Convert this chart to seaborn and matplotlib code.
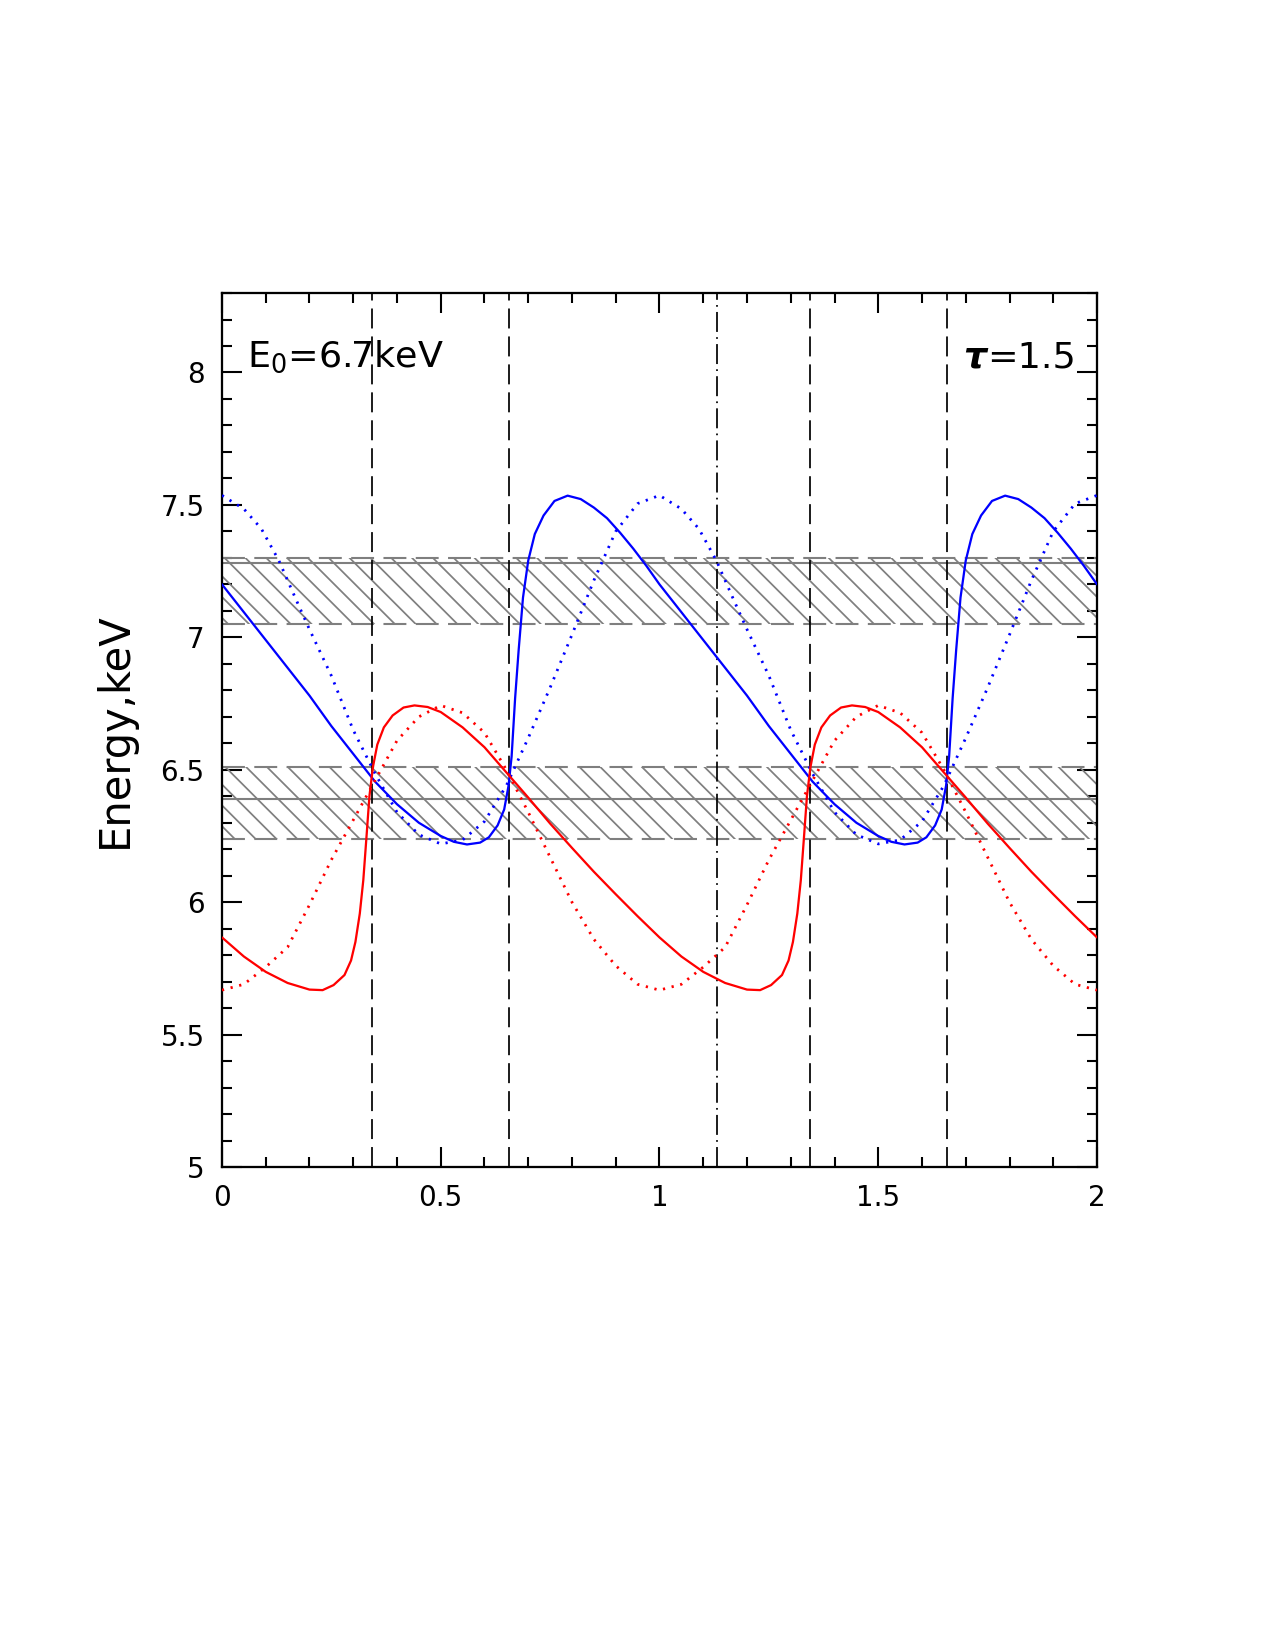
import numpy as np
import pandas as pd
import seaborn as sns
import matplotlib.pyplot as plt
from matplotlib.ticker import MultipleLocator, FuncFormatter

# one rotation period of the line energy (phase 0..1)
phase_blue = [0.00, 0.05, 0.10, 0.15, 0.20, 0.25, 0.30, 0.35, 0.40, 0.45, 0.50,
              0.53, 0.56, 0.59, 0.61, 0.63, 0.645, 0.655, 0.662, 0.670, 0.678, 0.688,
              0.700, 0.715, 0.735, 0.76, 0.79, 0.82, 0.85, 0.88, 0.91, 0.94, 0.97, 1.00]
e_blue = [7.20, 7.095, 6.99, 6.885, 6.78, 6.665, 6.56, 6.455, 6.37, 6.30, 6.25,
          6.228, 6.218, 6.225, 6.245, 6.29, 6.35, 6.44, 6.55, 6.77, 6.95, 7.15,
          7.29, 7.39, 7.46, 7.515, 7.535, 7.522, 7.49, 7.45, 7.395, 7.335, 7.27, 7.20]

phase_blue_dot = [0.00, 0.05, 0.09, 0.13, 0.17, 0.20, 0.25, 0.30, 0.35, 0.40, 0.45,
                  0.50, 0.55, 0.60, 0.65, 0.70, 0.75, 0.80, 0.85, 0.90, 0.95, 1.00]
e_blue_dot = [7.536, 7.485, 7.41, 7.29, 7.14, 7.03, 6.855, 6.65, 6.485, 6.34, 6.255,
              6.22, 6.235, 6.305, 6.44, 6.62, 6.81, 7.01, 7.215, 7.40, 7.505, 7.536]

phase_red = [0.00, 0.05, 0.10, 0.15, 0.20, 0.23, 0.255, 0.28, 0.295, 0.305, 0.315,
             0.323, 0.330, 0.337, 0.345, 0.355, 0.37, 0.39, 0.415, 0.44, 0.47, 0.50,
             0.55, 0.60, 0.65, 0.70, 0.75, 0.80, 0.85, 0.90, 0.95, 1.00]
e_red = [5.867, 5.795, 5.737, 5.695, 5.670, 5.668, 5.687, 5.725, 5.78, 5.85, 5.957,
         6.083, 6.24, 6.40, 6.51, 6.595, 6.66, 6.705, 6.735, 6.743, 6.737, 6.718,
         6.66, 6.585, 6.49, 6.395, 6.297, 6.205, 6.115, 6.03, 5.947, 5.867]

phase_red_dot = [0.00, 0.05, 0.10, 0.15, 0.20, 0.25, 0.30, 0.35, 0.40, 0.45, 0.50,
                 0.55, 0.60, 0.65, 0.70, 0.75, 0.80, 0.85, 0.90, 0.95, 1.00]
e_red_dot = [5.668, 5.69, 5.755, 5.83, 5.99, 6.16, 6.31, 6.46, 6.61, 6.70, 6.743,
             6.715, 6.64, 6.50, 6.34, 6.17, 6.00, 5.86, 5.76, 5.69, 5.668]

# observed line bands: (low, best, high)
band_low = [6.24, 7.052]
band_best = [6.391, 7.281]
band_high = [6.509, 7.301]

vlines_dashed = [0.343, 0.657, 1.343, 1.657]
vline_dashdot = 1.131

sns.set_style("ticks")
plt.rcParams['font.family'] = ['DejaVu Sans']
plt.rcParams['hatch.linewidth'] = 1.0
for k in ['text.color', 'axes.labelcolor', 'xtick.color', 'ytick.color']:
    plt.rcParams[k] = 'black'

fig = plt.figure(figsize=(10.2, 13.2), dpi=125)
ax = fig.add_axes([0.1741, 0.2927, 0.6863, 0.5297])


def two_cycles(ph, e):
    ph = np.asarray(ph)
    return pd.DataFrame({'phase': np.concatenate([ph, ph + 1]),
                         'E': np.concatenate([e, e])})


# hatched bands
for lo, best, hi in zip(band_low, band_best, band_high):
    ax.fill_between([0, 2], lo, hi, facecolor='none', edgecolor='#7f7f7f',
                    hatch='\\\\', linewidth=0, zorder=1)
    ax.axhline(lo, color='#7f7f7f', lw=1.2, dashes=(11, 4.5), zorder=2)
    ax.axhline(hi, color='#7f7f7f', lw=1.2, dashes=(11, 4.5), zorder=2)
    ax.axhline(best, color='#7f7f7f', lw=1.2, zorder=2)

for xv in vlines_dashed:
    ax.axvline(xv, color='black', lw=1.0, dashes=(11.5, 4.6), zorder=3)
ax.axvline(vline_dashdot, color='black', lw=1.0, dashes=(11.5, 3, 1, 3), zorder=3)

curves = [
    (phase_blue, e_blue, 'blue', '-'),
    (phase_blue_dot, e_blue_dot, 'blue', ':'),
    (phase_red, e_red, 'red', '-'),
    (phase_red_dot, e_red_dot, 'red', ':'),
]
for ph, e, col, ls in curves:
    df = two_cycles(ph, e)
    if ls == '-':
        sns.lineplot(data=df, x='phase', y='E', ax=ax, color=col, lw=1.3,
                     sort=False, estimator=None, zorder=4)
    else:
        sns.lineplot(data=df, x='phase', y='E', ax=ax, color=col, lw=1.6,
                     sort=False, estimator=None, dashes=False, zorder=4,
                     linestyle=(0, (0.8, 2.4)))

ax.set_xlim(0, 2)
ax.set_ylim(5, 8.3)
ax.xaxis.set_major_locator(MultipleLocator(0.5))
ax.xaxis.set_minor_locator(MultipleLocator(0.1))
ax.yaxis.set_major_locator(MultipleLocator(0.5))
ax.yaxis.set_minor_locator(MultipleLocator(0.1))
fmt = FuncFormatter(lambda v, p: f'{v:g}')
ax.xaxis.set_major_formatter(fmt)
ax.yaxis.set_major_formatter(fmt)
ax.tick_params(which='both', direction='in', top=True, right=True,
               width=1.2, color='black', labelsize=16)
ax.tick_params(which='major', length=11.5, pad=10)
ax.tick_params(which='minor', length=5.8)
for s in ax.spines.values():
    s.set_linewidth(1.3)
    s.set_color('black')

ax.set_xlabel('')
ax.set_ylabel('Energy,keV', fontsize=24, labelpad=14)

ax.text(0.057, 8.02, r'E$_0$=6.7keV', fontsize=21, ha='left', va='baseline')
ax.text(1.694, 8.02, 'τ', fontsize=21, fontweight='bold', style='italic',
        ha='left', va='baseline')
ax.text(1.749, 8.02, '=1.5', fontsize=21, ha='left', va='baseline')

fig.savefig('out.png', dpi=125)
